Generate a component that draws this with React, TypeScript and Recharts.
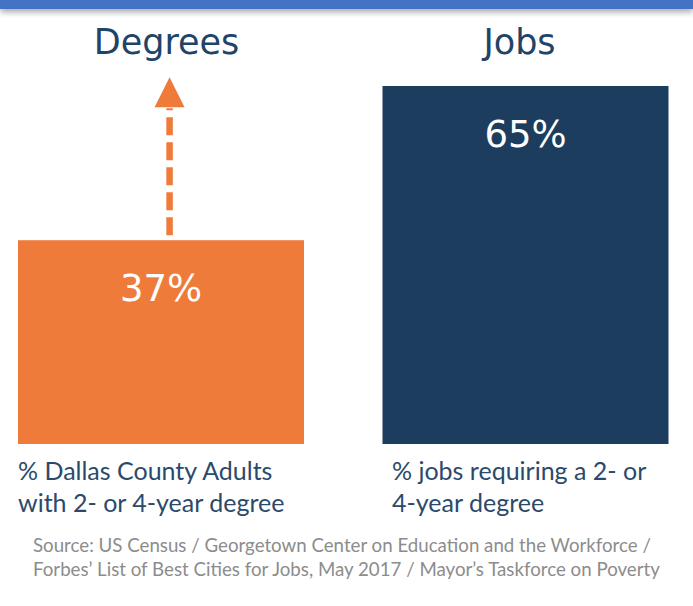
import React from 'react';
import { BarChart, Bar, XAxis, YAxis, LabelList, Cell } from 'recharts';

// ---- data ----
const categories = ['Degrees', 'Jobs'];
const shares = [37, 65];
const arrowTargets: (number | null)[] = [66.6, null];
const descriptions = [
  ['% Dallas County Adults', 'with 2- or 4-year degree'],
  ['% jobs requiring a 2- or', '4-year degree'],
];
const sourceLines = [
  'Source: US Census / Georgetown Center on Education and the Workforce /',
  'Forbes\u2019 List of Best Cities for Jobs, May 2017 / Mayor\u2019s Taskforce on Poverty',
];

const data = categories.map((category, i) => ({
  category,
  share: shares[i],
  arrowTo: arrowTargets[i],
  desc: descriptions[i],
}));

// ---- styles ----
const BAR_COLORS = ['#EF7B3A', '#1D3D5E'];
const TITLE_COLOR = '#1F4468';
const DESC_COLOR = '#2B4A6B';
const SOURCE_COLOR = '#8C8C8C';
const W = 693;
const H = 606;
const BAR_SIZE = 286;
const SANS = '"DejaVu Sans", Verdana, sans-serif';
const BODY = 'Lato, "Open Sans", sans-serif';

const BarShape = (props: any) => {
  const { x, y, width, height, payload, fill } = props;
  const items: React.ReactNode[] = [
    <rect key="r" x={x} y={y} width={width} height={height} fill={fill} />,
  ];
  if (payload && payload.arrowTo != null && height > 0) {
    const pxPerUnit = height / payload.share;
    const ax = x + width * 0.53;
    const tipY = y - (payload.arrowTo - payload.share) * pxPerUnit;
    const headLen = 30;
    const headHalf = 15;
    items.push(
      <line
        key="l"
        x1={ax}
        y1={y - 5}
        x2={ax}
        y2={tipY + headLen + 1}
        stroke={fill}
        strokeWidth={6.5}
        strokeDasharray="18 7"
      />
    );
    items.push(
      <polygon
        key="p"
        points={`${ax},${tipY} ${ax - headHalf},${tipY + headLen} ${ax + headHalf},${tipY + headLen}`}
        fill={fill}
      />
    );
  }
  return <g>{items}</g>;
};

const ValueLabel = (props: any) => {
  const { x, y, width, value } = props;
  return (
    <text
      x={x + width / 2}
      y={y + 61}
      textAnchor="middle"
      fill="#FFFFFF"
      fontSize={37}
      fontFamily={SANS}
    >
      {`${value}%`}
    </text>
  );
};

const TitleTick = (props: any) => {
  const { x, payload } = props;
  return (
    <text x={x} y={54} textAnchor="middle" fill={TITLE_COLOR} fontSize={35} fontFamily={SANS}>
      {payload.value}
    </text>
  );
};

const DescTick = (props: any) => {
  const { x, index } = props;
  const lines = descriptions[index] || [];
  const left = x - 148;
  return (
    <g>
      {lines.map((ln, i) => (
        <text
          key={i}
          x={left}
          y={480 + i * 32}
          textAnchor="start"
          fill={DESC_COLOR}
          fontSize={25}
          fontFamily={BODY}
        >
          {ln}
        </text>
      ))}
    </g>
  );
};

export default function App() {
  return (
    <div style={{ position: 'absolute', top: 0, left: 0, width: W, height: H, background: '#fff', overflow: 'hidden' }}>
      <div
        style={{
          position: 'absolute',
          top: 0,
          left: 0,
          width: W,
          height: 9,
          background: '#4472C4',
          boxShadow: '0 3px 6px rgba(0,0,0,0.35)',
          zIndex: 2,
        }}
      />
      <BarChart
        width={W}
        height={H}
        data={data}
        margin={{ top: 0, right: -15, bottom: 0, left: -21 }}
        barCategoryGap={0}
      >
        <YAxis hide domain={[0, 65]} type="number" />
        <XAxis xAxisId="main" dataKey="category" hide />
        <XAxis
          xAxisId="top"
          dataKey="category"
          orientation="top"
          height={86}
          axisLine={false}
          tickLine={false}
          padding={{ left: 11, right: 12 }}
          tick={<TitleTick />}
          interval={0}
        />
        <XAxis
          xAxisId="bottom"
          dataKey="category"
          orientation="bottom"
          height={162}
          axisLine={false}
          tickLine={false}
          padding={{ left: 0, right: -19 }}
          tick={<DescTick />}
          interval={0}
        />
        <Bar
          xAxisId="main"
          dataKey="share"
          barSize={BAR_SIZE}
          isAnimationActive={false}
          shape={<BarShape />}
        >
          {data.map((d, i) => (
            <Cell key={d.category} fill={BAR_COLORS[i]} />
          ))}
          <LabelList dataKey="share" content={<ValueLabel />} />
        </Bar>
      </BarChart>
      {sourceLines.map((ln, i) => (
        <div
          key={i}
          style={{
            position: 'absolute',
            left: 33,
            top: 533 + i * 24,
            fontFamily: BODY,
            fontSize: 18.7,
            lineHeight: '24px',
            color: SOURCE_COLOR,
            whiteSpace: 'nowrap',
          }}
        >
          {ln}
        </div>
      ))}
    </div>
  );
}
